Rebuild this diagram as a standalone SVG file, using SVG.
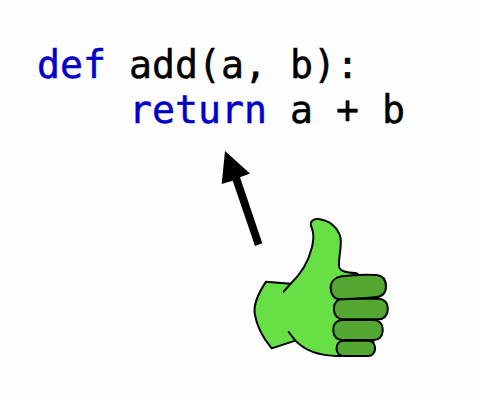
<svg xmlns="http://www.w3.org/2000/svg" width="480" height="400" viewBox="0 0 480 400">
<style>
.code{font-family:"DejaVu Sans Mono","Liberation Mono",monospace;font-size:38.2px;fill:#000;stroke:#000;stroke-width:.5}
.kw{fill:#0000c8;stroke:#0000c8}
.hand{fill:#66e044;stroke:#000;stroke-width:6;stroke-linejoin:round;stroke-linecap:round}
.crease{fill:none;stroke:#000;stroke-width:6;stroke-linecap:round}
.finger{fill:#52a832;stroke:#000;stroke-width:6}
</style>
<rect width="480" height="400" fill="#fefefe"/>
<g id="code">
<text class="code" x="37" y="78" xml:space="preserve"><tspan class="kw">def</tspan> add(a, b):</text>
<text class="code" x="129" y="123" xml:space="preserve"><tspan class="kw">return</tspan> a + b</text>
</g>
<g id="connectors">
<polygon points="225,151 250,173.5 240,177.3 262.3,243.3 255,246 232.7,180.7 221.7,184" fill="#000"/>
</g>
<g id="thumb" transform="translate(240 210) scale(.33333)">
<path class="hand" d="M78 215 L152 221 C185 190 205 155 215 115 C222 85 222 70 214 50 C208 34 220 26 235 27 C265 30 295 50 302 85 C305 115 295 145 297 170 C300 185 320 187 350 190 L400 230 L400 400 L300 438 C255 438 215 430 185 408 C178 403 172 398 166 392 L95 415 C70 385 50 350 44 310 C40 280 55 250 78 215 Z"/>
<path class="crease" d="M131 245 L152 221 M146 366 L166 392"/>
<rect class="finger" x="290" y="392" width="115" height="46" rx="20"/>
<rect class="finger" x="280" y="330" width="148" height="60" rx="26"/>
<rect class="finger" x="282" y="266" width="161" height="62" rx="27"/>
<path class="finger" d="M305 199 C340 194 380 193 410 195 C430 197 438 212 438 230 C438 250 425 260 405 262 C370 265 330 266 300 268 C282 268 272 252 272 234 C272 215 285 202 305 199 Z"/>
</g>
</svg>
